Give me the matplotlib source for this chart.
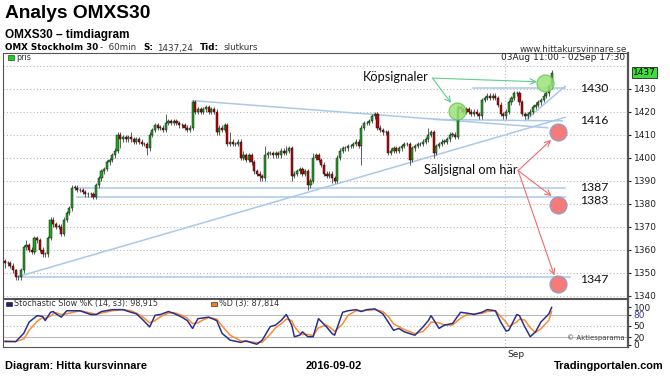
import numpy as np
import pandas as pd
import matplotlib
matplotlib.use('Agg')
import matplotlib.pyplot as plt
from matplotlib.patches import Rectangle

# hourly closes, OMXS30, 03 Aug 11:00 - 02 Sep 17:30 (one row per session)
closes = [
    1354, 1354, 1353, 1351, 1348, 1348, 1351,                    # 08-03
    1361, 1362, 1360, 1359, 1365, 1364, 1360, 1358, 1358,        # 08-04
    1365, 1373, 1371, 1370, 1370, 1367, 1373, 1376, 1378,        # 08-05
    1387, 1387, 1386, 1386, 1385, 1384, 1384, 1384, 1383,        # 08-08
    1388, 1391, 1394, 1395, 1398, 1399, 1401, 1403, 1410,        # 08-09
    1408, 1409, 1408, 1409, 1408, 1407, 1408, 1407, 1406,        # 08-10
    1406, 1404, 1410, 1412, 1414, 1413, 1413, 1412, 1415,        # 08-11
    1416, 1415, 1416, 1415, 1414, 1414, 1413, 1412, 1413,        # 08-12
    1424, 1420, 1421, 1420, 1421, 1422, 1420, 1421, 1420,        # 08-15
    1411, 1413, 1412, 1414, 1406, 1407, 1406, 1406, 1407,        # 08-16
    1400, 1401, 1399, 1401, 1398, 1394, 1393, 1392, 1391,        # 08-17
    1401, 1402, 1402, 1401, 1402, 1401, 1403, 1402, 1403,        # 08-18
    1404, 1392, 1393, 1394, 1395, 1393, 1394, 1388, 1390,        # 08-19
    1400, 1401, 1399, 1397, 1393, 1392, 1393, 1391, 1390,        # 08-22
    1400, 1403, 1404, 1404, 1405, 1405, 1406, 1407, 1405,        # 08-23
    1413, 1415, 1415, 1416, 1418, 1419, 1413, 1412, 1411,        # 08-24
    1411, 1402, 1403, 1404, 1403, 1404, 1405, 1406, 1406,        # 08-25
    1399, 1404, 1405, 1406, 1406, 1407, 1408, 1410, 1411,        # 08-26
    1402, 1405, 1406, 1407, 1407, 1408, 1410, 1410, 1409,        # 08-29
    1422, 1421, 1420, 1421, 1420, 1419, 1420, 1419, 1418,        # 08-30
    1425, 1426, 1427, 1426, 1427, 1426, 1423, 1419, 1418,        # 08-31
    1420, 1424, 1426, 1428, 1428, 1424, 1419, 1418, 1419,        # 09-01
    1420, 1422, 1423, 1424, 1425, 1427, 1428, 1431, 1437,        # 09-02
]
first_open = 1355
# wick lengths above / below the body (index points)
wick_up = [
    1, 1, 1, 1, 0.5, 1, 1,
    1, 2, 1, 1, 1, 1, 1, 1, 1,
    1, 1, 1, 1, 1, 1, 1, 1, 1,
    1, 1, 1, 1, 1, 1, 1, 1, 1,
    1, 1, 1, 1, 1, 1, 1, 1, 1,
    1, 1, 1, 1, 2, 1, 1, 1, 1,
    1, 1, 1, 1, 1, 1, 1, 1, 4,
    1, 1, 1, 1, 1, 1, 1, 1, 1,
    1, 1, 1, 1, 1, 1, 1, 1, 1,
    1, 1, 1, 1, 1, 4, 1, 1, 1,
    1, 2, 1, 1, 1, 1, 1, 1, 1,
    4, 1, 1, 1, 1, 1, 1, 1, 2,
    1, 1, 1, 1, 1, 1, 1, 1, 1,
    2, 1, 1, 1, 1, 1, 1, 1, 1,
    1, 1, 1, 1, 1, 1, 1, 1, 1,
    1, 1, 1, 1, 1, 1, 1, 1, 1,
    1, 1, 1, 1, 1, 1, 1, 1, 1,
    1, 1, 1, 1, 1, 1, 1, 3, 1,
    1, 1, 1, 1, 1, 1, 1, 1, 1,
    1, 1, 1, 1, 1, 1, 1, 1, 1,
    1, 1, 1, 1, 1, 1, 1, 1, 1,
    1, 1, 1, 1, 1, 1, 1, 1, 1,
    1, 1, 1, 1, 1, 1, 1, 1, 1,
]
wick_dn = [
    2, 1, 1, 1, 1, 1, 1,
    1, 1, 1, 1, 1, 1, 1, 1, 1,
    1, 1, 1, 1, 1, 1, 1, 1, 1,
    1, 1, 1, 1, 1, 1, 1, 1, 1,
    1, 1, 1, 1, 1, 1, 1, 1, 1,
    4, 1, 1, 1, 1, 1, 1, 1, 1,
    1, 3, 1, 1, 1, 1, 1, 1, 1,
    1, 1, 1, 1, 1, 1, 1, 1, 1,
    1, 1, 1, 1, 1, 1, 1, 1, 1,
    1, 1, 1, 1, 1, 1, 1, 1, 1,
    1, 1, 1, 1, 1, 1, 1, 2, 1,
    1, 1, 1, 1, 1, 1, 1, 1, 1,
    1, 2, 1, 1, 1, 1, 1, 2, 1,
    1, 1, 1, 1, 1, 1, 1, 2, 1,
    1, 1, 1, 1, 1, 1, 1, 1, 1,
    8, 1, 1, 1, 1, 1, 1, 1, 1,
    1, 1, 1, 1, 1, 1, 1, 1, 1,
    2, 1, 1, 1, 1, 1, 1, 1, 1,
    2, 1, 1, 1, 1, 1, 1, 1, 1,
    1, 1, 1, 1, 1, 1, 1, 1, 1,
    1, 1, 1, 1, 1, 1, 1, 1, 1,
    1, 1, 1, 1, 1, 1, 1, 1, 1,
    1, 1, 1, 1, 1, 1, 1, 1, 1,
]

# stochastic slow, read at bar positions
stoch_bar = [0, 4, 7, 9, 12, 14, 15, 17, 18, 19, 21, 23, 28, 32, 34, 36, 40, 44, 47, 49,
             51, 54, 56, 58, 61, 63, 66, 68, 70, 72, 74, 76, 79, 81, 84, 88, 90, 92, 94, 96,
             99, 101, 103, 105, 107, 108, 110, 111, 113, 115, 117, 120, 122, 123, 126, 128,
             131, 133, 135, 138, 141, 143, 145, 147, 149, 152, 153, 156, 158, 159, 162, 164,
             167, 170, 173, 175, 178, 180, 183, 185, 187, 188, 191, 192, 194, 196, 198, 200,
             203, 204]
stoch_k = [8, 8, 30, 60, 77, 75, 64, 86, 88, 82, 73, 90, 90, 80, 80, 88, 93, 93, 86, 82,
           69, 47, 78, 80, 88, 83, 73, 64, 43, 69, 71, 73, 64, 30, 12, 6, 10, 5, 1, 12,
           48, 52, 64, 80, 52, 21, 25, 34, 21, 21, 69, 47, 30, 25, 86, 90,
           93, 88, 93, 95, 82, 60, 38, 43, 34, 27, 25, 47, 64, 77, 43, 52,
           56, 86, 83, 80, 86, 93, 90, 60, 36, 38, 80, 77, 47, 21, 34, 60,
           82, 99]
stoch_d = [10, 8, 15, 38, 62, 72, 70, 76, 82, 85, 80, 82, 90, 84, 80, 84, 90, 93, 90, 84,
           76, 58, 64, 74, 84, 85, 78, 70, 56, 58, 66, 72, 68, 50, 25, 10, 8, 7, 5, 6,
           28, 45, 55, 68, 64, 48, 30, 27, 27, 24, 45, 52, 42, 35, 55, 78,
           90, 90, 91, 93, 88, 75, 55, 48, 40, 32, 29, 35, 50, 60, 58, 52,
           52, 70, 82, 82, 83, 88, 90, 75, 60, 48, 60, 68, 65, 45, 32, 42,
           65, 88]

# support / resistance levels and trend lines (bar, price)
levels = [1430, 1416, 1387, 1383, 1347]
trend_down = ([70, 202.5], [1424.8, 1413.0])
trend_up = ([5.5, 209], [1348.5, 1417.5])
trend_short = ([194, 209], [1416.0, 1431.0])

# bar timestamps
sessions = pd.bdate_range('2016-08-03', '2016-09-02')
times = []
for n, d in enumerate(sessions):
    for h in range(11 if n == 0 else 9, 18):
        times.append(d + pd.Timedelta(hours=h))
times = pd.DatetimeIndex(times)
idx = np.arange(len(closes))
sep_bar = int(np.argmax(times.month == 9))

c = np.array(closes, float)
o = np.r_[first_open, c[:-1]]
hi = np.maximum(o, c) + np.array(wick_up)
lo = np.minimum(o, c) - np.array(wick_dn)

W, H = 670, 377
def box(x0, y0, x1, y1):
    return [x0 / W, 1 - y1 / H, (x1 - x0) / W, (y1 - y0) / H]

plt.rcParams['font.family'] = ['DejaVu Sans']
fig = plt.figure(figsize=(6.7, 3.77), dpi=100)
ax = fig.add_axes(box(3, 53, 628, 298))
ax2 = fig.add_axes(box(3, 299, 628, 347))

grid = dict(color='#b8b8b8', linestyle=(0, (1, 2)), linewidth=0.8)

# price panel
ax.set_xlim(-0.75, 232.5)
ax.set_ylim(1339.0, 1445.5)
for y in range(1340, 1450, 10):
    ax.axhline(y, zorder=0, **grid)
ax.axvline(sep_bar - 0.3, zorder=0, **grid)

up = c >= o
ax.vlines(idx, lo, hi, color='#444444', linewidth=0.6, zorder=2)
ax.bar(idx, np.where(c == o, 0.15, c - o), bottom=o, width=0.8,
       color=np.where(up, '#1ea81e', '#c80000'), edgecolor='#111111',
       linewidth=0.35, zorder=3)

blue = '#a9c9ea'
ax.plot(*trend_down, color=blue, lw=1.1, zorder=1)
ax.plot(*trend_up, color=blue, lw=1.1, zorder=1)
ax.plot(*trend_short, color=blue, lw=1.1, zorder=1)
ax.plot([174.5, 209], [1430.5, 1430.5], color=blue, lw=1.1, zorder=1)
ax.plot([160, 208], [1416.6, 1416.0], color=blue, lw=1.1, zorder=1)
ax.plot([27, 209], [1387, 1387], color=blue, lw=1.1, zorder=1)
ax.plot([27, 209], [1383, 1383], color=blue, lw=1.1, zorder=1)
ax.plot([5, 211], [1348.3, 1348.3], color=blue, lw=1.1, zorder=1)

lab_font = dict(family=['Lato', 'DejaVu Sans'], fontsize=8.8, color='#111111', va='center')
for lv, yy in zip(levels, [1430, 1416, 1387, 1381.5, 1347]):
    ax.text(214.5, yy, str(lv), **lab_font)

# signals
ax.scatter([168.7, 201.5], [1420.5, 1432.5], s=150, color='#9be27a', alpha=0.85,
           edgecolor='#66c04a', linewidth=0.8, zorder=5)
ax.scatter([206.5, 206.5, 206.5], [1411.3, 1379.6, 1345.2], s=150, color='#f57b7b',
           edgecolor='#8aa0c8', linewidth=0.8, zorder=5)

sig_font = dict(family=['Lato', 'DejaVu Sans'], fontsize=9.2, va='center', color='#111111')
ax.text(133.5, 1435, 'Köpsignaler', **sig_font)
for tx, ty in [(198.5, 1433.0), (166.5, 1423.8)]:
    ax.annotate('', xy=(tx, ty), xytext=(159.5, 1434.6),
                arrowprops=dict(arrowstyle='->', color='#5fcf8a', lw=0.8,
                                shrinkA=0, shrinkB=0))
ax.text(156.5, 1394.6, 'Säljsignal om här', **sig_font)
for tx, ty in [(203.8, 1407.7), (204.0, 1383.3), (205.0, 1348.8)]:
    ax.annotate('', xy=(tx, ty), xytext=(191.5, 1394.4),
                arrowprops=dict(arrowstyle='->', color='#f26a6a', lw=0.8,
                                shrinkA=0, shrinkB=0))

ax.yaxis.tick_right()
ax.set_yticks(range(1340, 1440, 10))
ax.tick_params(axis='y', labelsize=6.5, length=2, pad=2, colors='#222222')
ax.set_xticks([])
for s in ['left', 'top', 'bottom']:
    ax.spines[s].set_linewidth(0.8)
    ax.spines[s].set_color('#555555')
ax.spines['right'].set_linewidth(1.6)
ax.spines['right'].set_color('#555555')
ax.text(1.008, (1437 - 1339.0) / (1445.5 - 1339.0), '1437', transform=ax.transAxes,
        fontsize=6.5, va='center', ha='left',
        bbox=dict(boxstyle='square,pad=0.15', fc='#3fdc3f', ec='#222222', lw=0.6))

# stochastic panel
ax2.set_xlim(-0.75, 232.5)
ax2.set_ylim(-6.4, 121.3)
ax2.axhline(80, color='#bbbbbb', lw=0.8, zorder=0)
ax2.axhline(20, color='#bbbbbb', lw=0.8, zorder=0)
ax2.axhline(50, zorder=0, **grid)
ax2.axvline(sep_bar - 0.3, zorder=0, **grid)
ax2.plot(stoch_bar, stoch_d, color='#ff8a30', lw=1.1)
ax2.plot(stoch_bar, stoch_k, color='#27308f', lw=1.1)
ax2.yaxis.tick_right()
ax2.set_yticks([0, 20, 50, 80, 100])
ax2.tick_params(axis='y', labelsize=6.5, length=2, pad=2, colors='#222222')
ax2.get_yticklabels()[3].set_color('#3a3aa0')
ax2.set_xticks([sep_bar + 3.5])
ax2.set_xticklabels(['Sep'])
ax2.tick_params(axis='x', labelsize=6.5, length=0, pad=2, colors='#222222')
for s in ['left', 'top', 'bottom']:
    ax2.spines[s].set_linewidth(0.8)
    ax2.spines[s].set_color('#555555')
ax2.spines['right'].set_linewidth(1.6)
ax2.spines['right'].set_color('#555555')
ax2.text(0.017, 0.9, 'Stochastic Slow %K (14, s3): 98,915', transform=ax2.transAxes,
         fontsize=5.8, va='center', color='#333333')
ax2.text(0.345, 0.9, '%D (3): 87,814', transform=ax2.transAxes,
         fontsize=5.8, va='center', color='#333333')
ax2.add_patch(Rectangle((0.005, 0.85), 0.01, 0.09, transform=ax2.transAxes,
                        fc='#1c2470', ec='#111111', lw=0.4))
ax2.add_patch(Rectangle((0.333, 0.85), 0.01, 0.09, transform=ax2.transAxes,
                        fc='#ff7a20', ec='#111111', lw=0.4))
ax2.text(0.995, 0.2, '© Aktiesparama', transform=ax2.transAxes, fontsize=5,
         ha='right', va='center', color='#444444')

# header / legend row
bold_font = ['Liberation Sans', 'DejaVu Sans']
fig.text(5 / W, 1 - 14 / H, 'Analys OMXS30', family=bold_font,
         fontsize=13.8, weight='bold', va='center')
fig.text(5 / W, 1 - 35 / H, 'OMXS30 – timdiagram', family=bold_font,
         fontsize=8.5, weight='bold', va='center')
hy = 1 - 48 / H
fig.text(5 / W, hy, 'OMX Stockholm 30', fontsize=6.3, weight='bold', va='center')
fig.text(100 / W, hy, '-  60min', fontsize=6.3, va='center', color='#333333')
fig.text(143 / W, hy, 'S:', fontsize=6.3, weight='bold', va='center')
fig.text(157 / W, hy, '1437,24', fontsize=6.3, va='center', color='#333333')
fig.text(200 / W, hy, 'Tid:', fontsize=6.3, weight='bold', va='center')
fig.text(223 / W, hy, 'slutkurs', fontsize=6.3, va='center', color='#333333')
fig.text(627 / W, 1 - 49 / H, 'www.hittakursvinnare.se', fontsize=6.3, ha='right',
         va='center', color='#333333')
fig.text(625 / W, 1 - 58 / H, '03Aug 11:00 - 02Sep 17:30', fontsize=6.5, ha='right',
         va='center', color='#222222')
fig.add_artist(Rectangle((8 / W, 1 - 60 / H), 6 / W, 5 / H, fc='#22cc22',
                         ec='#225522', lw=0.5))
fig.text(16 / W, 1 - 57.5 / H, 'pris', fontsize=5.8, va='center', color='#333333')

# footer
foot = dict(family=bold_font, fontsize=7.9, weight='bold', va='center')
fig.text(5 / W, 1 - 366 / H, 'Diagram: Hitta kursvinnare', **foot)
fig.text(334 / W, 1 - 366 / H, '2016-09-02', ha='center', **foot)
fig.text(664 / W, 1 - 366 / H, 'Tradingportalen.com', ha='right', **foot)

fig.savefig('out.png', dpi=100)
